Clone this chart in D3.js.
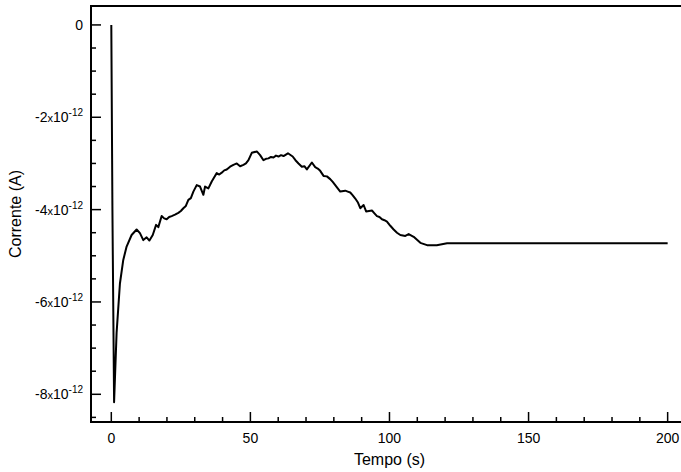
<!DOCTYPE html>
<html>
<head>
<meta charset="utf-8">
<script src="https://cdn.jsdelivr.net/npm/d3@7"></script>
<style>
  body { margin: 0; background: #fff; }
  text { font-family: "Liberation Sans", Arial, Helvetica, sans-serif; fill: #000; }
</style>
</head>
<body>
<div id="chart"></div>
<script>
// time (s)
let tempo = [0, 0.4, 1.0, 1.9, 3.1, 4.3, 5.5, 7.3, 9.1, 10.3, 11.5, 12.7, 13.7, 14.9, 16.1, 16.9,
  18.1, 19.0, 19.9, 20.8, 21.7, 22.9, 24.1, 25.0, 25.9, 26.8, 27.7, 28.6, 29.5, 30.7, 31.9, 33.1, 33.7, 34.9, 36.1, 37.0, 37.9, 38.8, 39.7,
  40.6, 41.5, 42.7, 43.9, 45.1, 46.3, 47.5, 48.4, 49.3, 50.5, 52.3, 53.5, 54.7, 55.6, 56.5, 57.4, 58.3, 59.2, 60.1, 61.0, 61.9, 63.5,
  65.2, 66.2, 67.3, 68.5, 69.4, 70.3, 72.1, 73.3, 74.2, 75.1, 76.3, 77.5, 78.7, 79.6, 80.5, 81.4, 82.3, 84.1, 85.0, 85.9, 86.8, 87.7, 88.6, 89.5,
  90.7, 91.6, 93.7, 94.6, 95.5, 96.4, 97.3, 98.2, 99.1, 100.3, 101.5, 102.7, 103.9, 105.7, 106.9, 108.7, 110.0, 111.1, 113.5, 117,
  120.7, 125.5, 150, 175, 200];
// current, in units of 1e-12 A
let corrente = [0, -4.0, -8.17, -6.67, -5.6, -5.09, -4.80, -4.55, -4.43, -4.51, -4.66, -4.60, -4.67, -4.55, -4.33, -4.38,
  -4.14, -4.19, -4.21, -4.16, -4.14, -4.11, -4.07, -4.03, -3.97, -3.92, -3.79, -3.75, -3.61, -3.47, -3.50, -3.68, -3.50, -3.54, -3.39, -3.30, -3.21, -3.24, -3.20,
  -3.15, -3.13, -3.07, -3.03, -3.00, -3.06, -3.03, -3.00, -2.93, -2.77, -2.74, -2.82, -2.93, -2.90, -2.89, -2.86, -2.87, -2.83, -2.85, -2.82, -2.84, -2.78,
  -2.85, -2.93, -3.00, -3.07, -3.06, -3.13, -2.98, -3.08, -3.11, -3.16, -3.27, -3.28, -3.34, -3.40, -3.47, -3.54, -3.61, -3.59, -3.61, -3.63, -3.69, -3.76, -3.84, -3.97,
  -3.90, -4.04, -4.02, -4.08, -4.14, -4.16, -4.21, -4.23, -4.26, -4.35, -4.43, -4.50, -4.55, -4.57, -4.53, -4.59, -4.66, -4.72, -4.77, -4.77,
  -4.73, -4.73, -4.73, -4.73, -4.73];
let xTicks = [0, 50, 100, 150, 200];
let yTicks = [0, -2, -4, -6, -8];

let data = tempo.map((t, i) => ({t: t, v: corrente[i] * 1e-12}));

let margin = {top: 6, right: 0, bottom: 50, left: 91};
let width = 681 - margin.left - margin.right;
let height = 472 - margin.top - margin.bottom;

let svg = d3.select("#chart")
    .append("svg")
    .attr("width", 681)
    .attr("height", 472)
    .append("g")
    .attr("transform", "translate(" + margin.left + "," + margin.top + ")");

let xScale = d3.scaleLinear().domain([-7.3, 204.8]).range([0, width]);
let yScale = d3.scaleLinear().domain([-8.6e-12, 0.41e-12]).range([height, 0]);

// minor ticks
let xMinor = d3.range(0, 201, 10);
let yMinor = d3.range(-8.5, 0.01, 0.5);

svg.selectAll(".x-minor")
    .data(xMinor)
    .enter()
    .append("line")
    .attr("x1", d => xScale(d))
    .attr("x2", d => xScale(d))
    .attr("y1", height)
    .attr("y2", d => height - (d % 50 === 0 ? 10 : 5))
    .attr("stroke", "#000")
    .attr("stroke-width", 1.5);

svg.selectAll(".y-minor")
    .data(yMinor)
    .enter()
    .append("line")
    .attr("y1", d => yScale(d * 1e-12))
    .attr("y2", d => yScale(d * 1e-12))
    .attr("x1", 0)
    .attr("x2", d => (d % 2 === 0 ? 10 : 5))
    .attr("stroke", "#000")
    .attr("stroke-width", 1.5);

// x tick labels
svg.selectAll(".x-label")
    .data(xTicks)
    .enter()
    .append("text")
    .attr("x", d => xScale(d))
    .attr("y", height + 21)
    .attr("text-anchor", "middle")
    .style("font-size", "14px")
    .text(d => d);

// y tick labels
let yLab = svg.selectAll(".y-label")
    .data(yTicks)
    .enter()
    .append("text")
    .attr("x", -8)
    .attr("y", d => yScale(d * 1e-12) + 5)
    .attr("text-anchor", "end")
    .style("font-size", "14px");

yLab.each(function(d) {
    let t = d3.select(this);
    if (d === 0) {
        t.text("0");
    } else {
        t.append("tspan").text(d);
        t.append("tspan").style("font-size", "11px").text("x");
        t.append("tspan").text("10");
        t.append("tspan").attr("dy", -6).style("font-size", "10px").text("-12");
    }
});

// frame
svg.append("path")
    .attr("d", `M${width + 2},0 H0 V${height} H${width + 2}`)
    .attr("fill", "none")
    .attr("stroke", "#000")
    .attr("stroke-width", 2);

// line
let line = d3.line()
    .x(d => xScale(d.t))
    .y(d => yScale(d.v));

svg.append("path")
    .datum(data)
    .attr("d", line)
    .attr("fill", "none")
    .attr("stroke", "#000")
    .attr("stroke-width", 2)
    .attr("stroke-linejoin", "round");

// axis titles
svg.append("text")
    .attr("text-anchor", "middle")
    .attr("x", xScale(100))
    .attr("y", height + 43)
    .style("font-size", "16px")
    .text("Tempo (s)");

svg.append("text")
    .attr("text-anchor", "middle")
    .attr("transform", "rotate(-90)")
    .attr("x", -(height / 2))
    .attr("y", -margin.left + 21)
    .style("font-size", "16px")
    .text("Corrente (A)");
</script>
</body>
</html>
